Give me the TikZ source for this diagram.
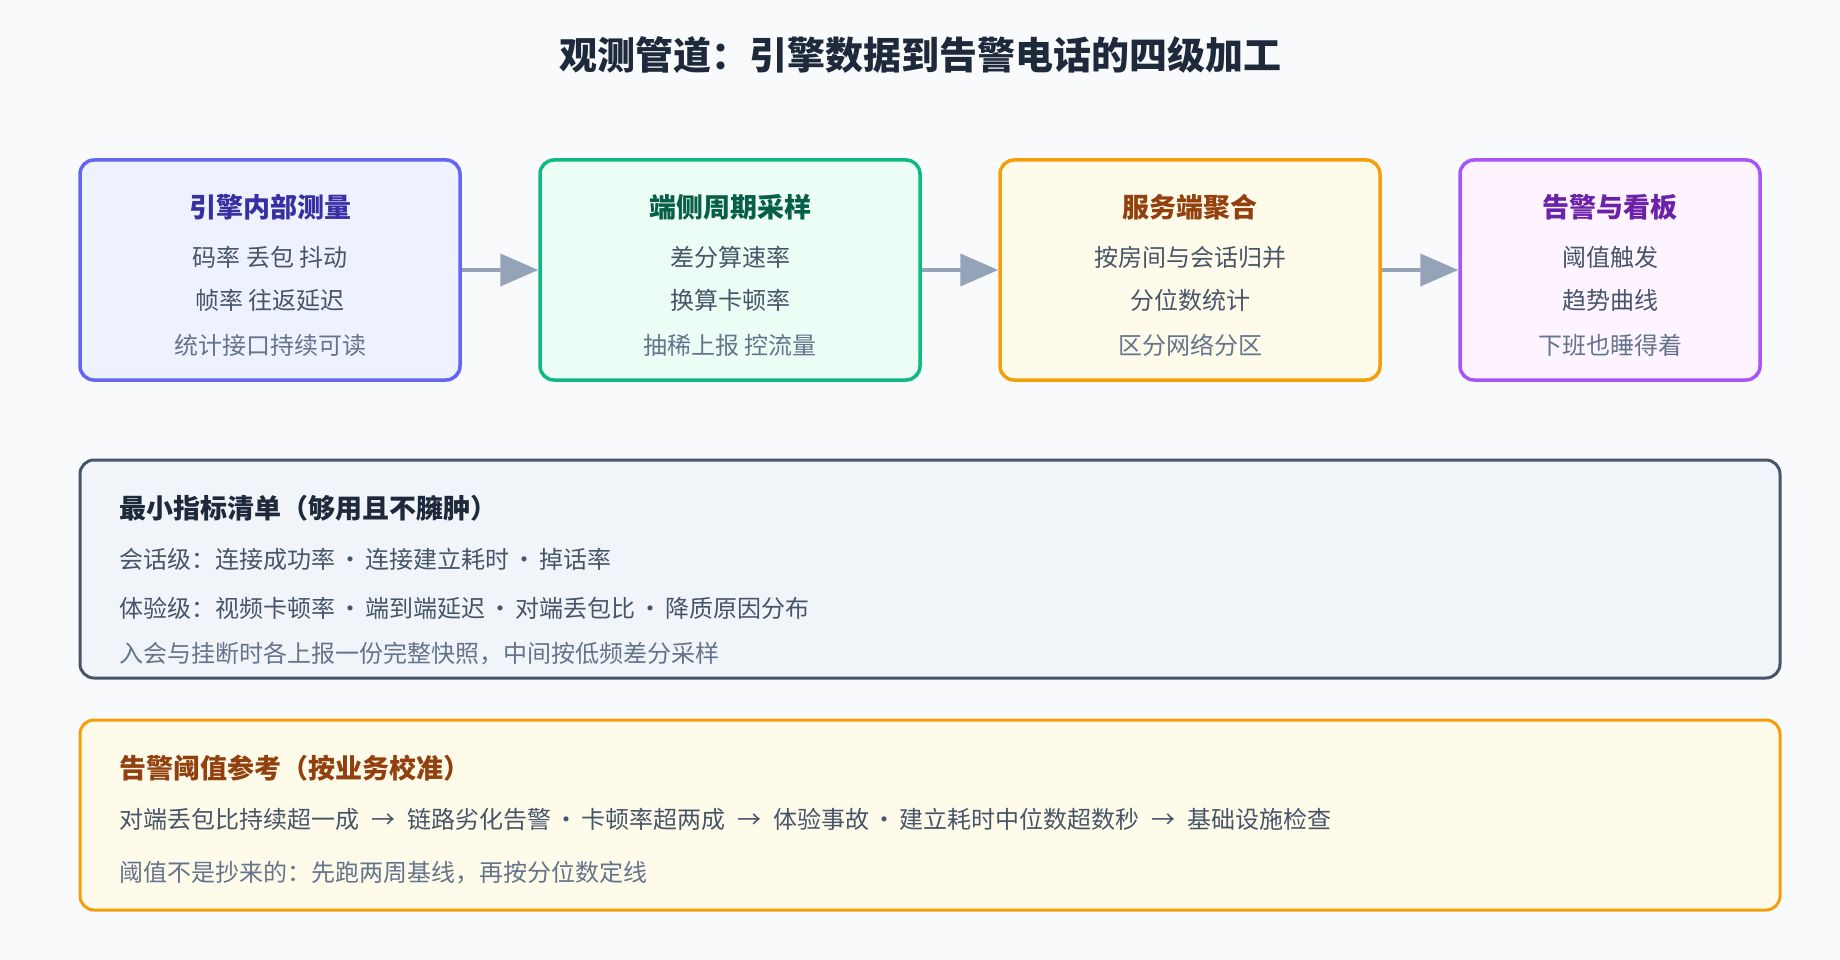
\documentclass[tikz,border=0pt]{standalone}
\usepackage{fontspec}
\setmainfont{Noto Sans CJK SC}
\usetikzlibrary{calc,positioning}
\usetikzlibrary{arrows.meta}

\definecolor{bgc}{HTML}{F8FAFC}
\definecolor{titlec}{HTML}{1E293B}
\definecolor{itemc}{HTML}{475569}
\definecolor{notec}{HTML}{64748B}
\definecolor{flowc}{HTML}{94A3B8}
\definecolor{EMd}{HTML}{6366F1}\definecolor{EMf}{HTML}{EEF2FF}\definecolor{EMh}{HTML}{3730A3}
\definecolor{CSd}{HTML}{10B981}\definecolor{CSf}{HTML}{ECFDF5}\definecolor{CSh}{HTML}{065F46}
\definecolor{SAd}{HTML}{F59E0B}\definecolor{SAf}{HTML}{FFFBEB}\definecolor{SAh}{HTML}{92400E}
\definecolor{ADd}{HTML}{A855F7}\definecolor{ADf}{HTML}{FDF4FF}\definecolor{ADh}{HTML}{6B21A8}
\definecolor{MLd}{HTML}{475569}\definecolor{MLf}{HTML}{F1F5F9}

\newcommand{\ptdot}{\hspace{3pt}·\hspace{3pt}}
\newcommand{\ptarr}{\hspace{12pt}→\hspace{12pt}}

\begin{document}
\begin{tikzpicture}[x=1pt,y=-1pt,
  stage/.style={rectangle, draw, line width=3.5pt, rounded corners=14pt,
    minimum width=380pt, minimum height=220pt},
  panel/.style={rectangle, draw, line width=3pt, rounded corners=14pt,
    minimum width=1700pt},
  head/.style={font=\fontsize{27}{32}\selectfont\bfseries},
  item/.style={font=\fontsize{24}{28}\selectfont, text=itemc},
  note/.style={font=\fontsize{24}{28}\selectfont, text=notec},
  flow/.style={-{Triangle[length=38pt,width=32pt]}, line width=4pt, draw=flowc}]

  \fill[bgc] (0,0) rectangle (1840,960);

  \node (T) at (920,55) [font=\fontsize{38}{44}\selectfont\bfseries, text=titlec]
        {观测管道：引擎数据到告警电话的四级加工};

  \node (EM) at (270,270) [stage, draw=EMd, fill=EMf] {};
  \node (CS) at (730,270) [stage, draw=CSd, fill=CSf] {};
  \node (SA) at (1190,270) [stage, draw=SAd, fill=SAf] {};
  \node (AD) at (1610,270) [stage, minimum width=300pt, draw=ADd, fill=ADf] {};

  \node (EMt) at ($(EM.north)+(0,49)$) [head, text=EMh] {引擎内部测量};
  \node (EM1) at ($(EM.north)+(0,99)$) [item] {码率 丢包 抖动};
  \node (EM2) at ($(EM.north)+(0,142)$) [item] {帧率 往返延迟};
  \node (EM3) at ($(EM.north)+(0,187)$) [note] {统计接口持续可读};

  \node (CSt) at ($(CS.north)+(0,49)$) [head, text=CSh] {端侧周期采样};
  \node (CS1) at ($(CS.north)+(0,99)$) [item] {差分算速率};
  \node (CS2) at ($(CS.north)+(0,142)$) [item] {换算卡顿率};
  \node (CS3) at ($(CS.north)+(0,187)$) [note] {抽稀上报 控流量};

  \node (SAt) at ($(SA.north)+(0,49)$) [head, text=SAh] {服务端聚合};
  \node (SA1) at ($(SA.north)+(0,99)$) [item] {按房间与会话归并};
  \node (SA2) at ($(SA.north)+(0,142)$) [item] {分位数统计};
  \node (SA3) at ($(SA.north)+(0,187)$) [note] {区分网络分区};

  \node (ADt) at ($(AD.north)+(0,49)$) [head, text=ADh] {告警与看板};
  \node (AD1) at ($(AD.north)+(0,99)$) [item] {阈值触发};
  \node (AD2) at ($(AD.north)+(0,142)$) [item] {趋势曲线};
  \node (AD3) at ($(AD.north)+(0,187)$) [note] {下班也睡得着};

  \draw[flow] (EM) -- (CS);
  \draw[flow] (CS) -- (SA);
  \draw[flow] (SA) -- (AD);

  \node (ML) at (930,569) [panel, minimum height=218pt, draw=MLd, fill=MLf] {};
  \node (MLt) at ($(ML.north west)+(37,50)$) [head, anchor=west, text=titlec]
        {最小指标清单（够用且不臃肿）};
  \node (ML1) at ($(ML.north west)+(37,101)$) [item, anchor=west]
        {会话级：连接成功率\ptdot 连接建立耗时\ptdot 掉话率};
  \node (ML2) at ($(ML.north west)+(37,150)$) [item, anchor=west]
        {体验级：视频卡顿率\ptdot 端到端延迟\ptdot 对端丢包比\ptdot 降质原因分布};
  \node (ML3) at ($(ML.north west)+(37,195)$) [note, anchor=west]
        {入会与挂断时各上报一份完整快照，中间按低频差分采样};

  \node (AT) at (930,815) [panel, minimum height=190pt, draw=SAd, fill=SAf] {};
  \node (ATt) at ($(AT.north west)+(37,50)$) [head, anchor=west, text=SAh]
        {告警阈值参考（按业务校准）};
  \node (AT1) at ($(AT.north west)+(37,101)$) [item, anchor=west]
        {对端丢包比持续超一成\ptarr 链路劣化告警\ptdot 卡顿率超两成\ptarr 体验事故\ptdot 建立耗时中位数超数秒\ptarr 基础设施检查};
  \node (AT2) at ($(AT.north west)+(37,154)$) [note, anchor=west]
        {阈值不是抄来的：先跑两周基线，再按分位数定线};

\end{tikzpicture}
\end{document}
